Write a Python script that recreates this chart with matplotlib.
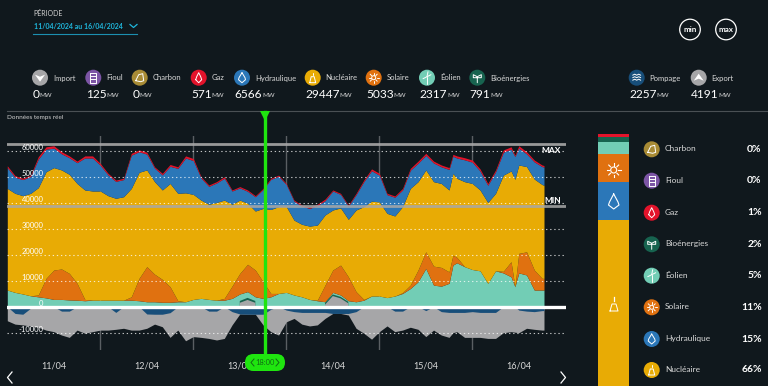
from matplotlib import pyplot as plt
from matplotlib.patches import Circle, FancyBboxPatch, Polygon
import numpy as np

plt.rcParams.update({"font.family": ["Lato", "DejaVu Sans"], "font.size": 7})

W, H = 768, 386
BG = "#10181d"
JAUNE, BLEU, ORANGE, TEAL = "#e8ab05", "#2b77b8", "#e07110", "#72cdb5"
ROUGE, VERT, GRIS, MARINE = "#e3132b", "#17634f", "#a6a6a8", "#174e7a"
VIOLET, OCRE = "#7c55a5", "#a88b35"

heures = np.array(sorted(list(range(0, 139, 2)) + [115, 131, 138.5]))
jours = ["11/04", "12/04", "13/04", "14/04", "15/04", "16/04"]

# niveaux cumules, en MW
niveau_gaz = [
    54200, 50400, 49400, 50600, 57700, 61500, 61900, 59600, 58000, 56000,
    58000, 58000, 55100, 51300, 48700, 49400, 59000, 60300, 59400, 53800,
    51300, 54700, 53800, 58000, 57000, 50000, 46800, 48100, 50000, 44900,
    46200, 44900, 42700, 45500, 49400, 50600, 47400, 41000, 39100, 38200,
    39400, 41400, 44900, 43600, 39100, 43600, 48700, 53000, 51300, 43600,
    42600, 45500, 53200, 56000, 59000, 56000, 54500, 53500, 58600, 58000,
    57300, 56400, 53000, 47400, 52600, 60300, 61500, 58300, 61900, 59600,
    56400, 54500, 54300,
]
gaz = [
    700, 600, 500, 500, 900, 900, 900, 800, 700, 600,
    800, 800, 700, 600, 500, 500, 700, 700, 700, 500,
    600, 700, 600, 800, 800, 500, 500, 500, 600, 400,
    500, 500, 400, 400, 400, 400, 400, 400, 400, 400,
    500, 600, 400, 400, 400, 500, 600, 700, 700, 500,
    500, 600, 700, 800, 800, 700, 700, 700, 700, 800,
    800, 800, 800, 700, 700, 900, 900, 500, 900, 800,
    700, 600, 600,
]
niveau_nucleaire = [
    45500, 43600, 42700, 43600, 45800, 51900, 53500, 52600, 50900, 47400,
    44900, 44500, 44500, 42700, 41700, 42300, 45500, 51700, 52600, 48100,
    44900, 47400, 43600, 43800, 43200, 41000, 39400, 40100, 41000, 39400,
    41000, 39800, 36800, 37800, 37400, 38500, 38500, 33300, 31700, 31000,
    31400, 35300, 37200, 38000, 33600, 37200, 38500, 40600, 40300, 35900,
    34900, 38500, 45500, 48100, 52600, 48100, 47400, 44900, 51300, 49400,
    48100, 47400, 44900, 40100, 43600, 50600, 52200, 49000, 54500, 53900,
    49100, 47000, 46700,
]
niveau_solaire = [
    6400, 5500, 4900, 4200, 4500, 10900, 14100, 14500, 12800, 9000,
    2800, 2500, 2500, 2500, 2500, 2500, 3800, 10900, 15400, 12500,
    10500, 7700, 2300, 1900, 2800, 3200, 2800, 2500, 3200, 7900,
    12800, 16300, 14100, 9600, 5100, 5100, 5500, 4500, 3800, 2800,
    2500, 8300, 14100, 16000, 11500, 5800, 2800, 4100, 4100, 3500,
    4100, 5400, 8300, 14100, 21100, 15600, 15100, 13400, 19800, 19000,
    15400, 14300, 13800, 9000, 13800, 13600, 17300, 7700, 20500, 21100,
    14100, 10900, 10900,
]
niveau_eolien = [
    6400, 5500, 4900, 4200, 3800, 3400, 2800, 2800, 2600, 2500,
    2300, 2500, 2500, 2500, 2500, 2500, 2500, 2300, 1900, 1900,
    1700, 1700, 1900, 1900, 2800, 3200, 2800, 2500, 2500, 3200,
    4900, 5800, 3800, 3200, 3800, 5100, 5500, 4500, 3800, 2800,
    2300, 1900, 5500, 4500, 2300, 1900, 2500, 4100, 4100, 3500,
    4100, 5100, 7000, 9600, 14700, 8300, 7900, 9000, 16000, 16900,
    15400, 14300, 13800, 9000, 13800, 13000, 11500, 7700, 13000, 12200,
    6400, 6400, 6400,
]
niveau_bio = [
    0, 0, 0, 0, 0, 0, 0, 0, 0, 0,
    0, 0, 0, 0, 0, 0, 0, 0, 0, 0,
    0, 0, 0, 0, 0, 0, 0, 0, 0, 0,
    2200, 3400, 2200, 0, 0, 0, 0, 0, 0, 0,
    0, 1500, 4700, 3800, 1900, 0, 0, 0, 0, 0,
    0, 0, 0, 0, 0, 0, 0, 0, 0, 0,
    0, 0, 0, 0, 0, 0, 0, 0, 0, 0,
    0, 0, 0,
]
imports = [
    0, 0, 0, 0, 0, 0, 0, 0, 0, 0,
    0, 0, 0, 0, 0, 0, 0, 0, 0, 0,
    0, 0, 0, 0, 0, 0, 0, 0, 0, 0,
    1500, 2600, 1500, 0, 0, 0, 0, 0, 0, 0,
    0, 800, 4100, 3200, 1300, 0, 0, 0, 0, 0,
    0, 0, 0, 0, 0, 0, 0, 0, 0, 0,
    0, 0, 0, 0, 0, 0, 0, 0, 0, 0,
    0, 0, 0,
]
pompage = [
    0, -2600, -2900, -600, 0, 0, 0, -1700, -1700, 0,
    0, 0, 0, 0, -2200, 0, 0, 0, -2800, -2900,
    -2900, -2300, 0, 0, 0, 0, -1700, -1700, 0, -1900,
    -2800, -2900, -2900, -2900, -1000, 0, -1300, -1900, -2200, -2200,
    -2200, -2200, -2600, -2600, -2600, -1900, 0, 0, 0, 0,
    -1700, -1700, 0, 0, -1500, 0, -1900, -2200, -2200, -2200,
    -2200, -1900, -2200, -2200, -2200, 0, 0, 0, -1300, -1700,
    -1900, -1500, -1500,
]
export_bas = [
    -5400, -6700, -7000, -7400, -7900, -9000, -9600, -10900, -11800, -9000,
    -10200, -9600, -9000, -9000, -8700, -8300, -9000, -9000, -8300, -6700,
    -7700, -11800, -9000, -13100, -11500, -11800, -12200, -12800, -12200, -7000,
    -2800, -2900, -2900, -7000, -9600, -10900, -5800, -4500, -6700, -7400,
    -7000, -4500, -2600, -2600, -3200, -8300, -10200, -12500, -9600, -7400,
    -9600, -9000, -7900, -8700, -11500, -9000, -10900, -11800, -10000, -9600,
    -11800, -11800, -11800, -12200, -12200, -10000, -9600, -9800, -10000, -8300,
    -8700, -9000, -9000,
]

# panneau du haut
filieres_haut = ["Import", "Fioul", "Charbon", "Gaz", "Hydraulique", "Nucléaire",
                 "Solaire", "Éolien", "Bioénergies", "Pompage", "Export"]
valeurs_haut = [0, 125, 0, 571, 6566, 29447, 5033, 2317, 791, 2257, 4191]
couleurs_haut = [GRIS, VIOLET, OCRE, ROUGE, BLEU, JAUNE, ORANGE, TEAL, VERT, MARINE, GRIS]
icones_x = [40, 93.3, 139.7, 198.7, 242, 312.7, 373.7, 427, 477.3, 636.7, 698.7]

# barre de droite
filieres_mix = ["Charbon", "Fioul", "Gaz", "Bioénergies", "Éolien", "Solaire", "Hydraulique", "Nucléaire"]
parts_mix = [0, 0, 1, 2, 5, 11, 15, 66]
couleurs_mix = [OCRE, VIOLET, ROUGE, VERT, TEAL, ORANGE, BLEU, JAUNE]
legende_y = [149.3, 180.7, 212.7, 244.3, 275.7, 307.3, 339, 370]

seuil_max = 62700
seuil_min = 38850


def axes_px(fig, x0, y0, x1, y1, **kw):
    return fig.add_axes([x0 / W, 1 - y1 / H, (x1 - x0) / W, (y1 - y0) / H], **kw)


def icone(ax, x, y, nom, couleur, r=8):
    # pictogrammes tres simplifies
    ax.add_patch(Circle((x, y), r, fc=couleur, ec="none", zorder=5))
    trait = dict(color="white", lw=0.7, zorder=6, solid_capstyle="round")
    if nom == "Import":
        ax.add_patch(Polygon([(x - 5, y - 3), (x, y - 1), (x + 5, y - 3), (x, y + 4)], fc="white", zorder=6))
    elif nom == "Export":
        ax.add_patch(Polygon([(x - 5, y + 3), (x, y + 1), (x + 5, y + 3), (x, y - 4)], fc="white", zorder=6))
    elif nom == "Fioul":
        ax.plot([x - 3, x - 3, x + 3, x + 3, x - 3], [y - 5, y + 5, y + 5, y - 5, y - 5], **trait)
        ax.plot([x - 3, x + 3], [y - 1.5, y - 1.5], **trait)
        ax.plot([x - 3, x + 3], [y + 1.5, y + 1.5], **trait)
    elif nom == "Charbon":
        ax.plot([x - 4, x - 1, x + 3, x + 4, x + 1, x - 4], [y + 3, y - 3, y - 4, y + 3, y + 4, y + 3], **trait)
    elif nom == "Gaz":
        ax.plot([x - 3, x - 2, x, x + 2, x + 3, x, x - 3], [y + 2, y - 1, y - 5, y - 1, y + 2, y + 5, y + 2], **trait)
    elif nom == "Hydraulique":
        ax.plot([x, x + 3, x + 3.5, x, x - 3.5, x - 3, x], [y - 5, y, y + 2, y + 5, y + 2, y, y - 5], **trait)
    elif nom == "Nucléaire":
        ax.plot([x - 3, x - 1.5, x + 1.5, x + 3, x - 3], [y + 5, y - 1, y - 1, y + 5, y + 5], **trait)
        ax.plot([x, x], [y - 5, y - 3], **trait)
    elif nom == "Solaire":
        ax.add_patch(Circle((x, y), 2, fc="none", ec="white", lw=0.7, zorder=6))
        for a in np.arange(0, 2 * np.pi, np.pi / 4):
            ax.plot([x + 3 * np.cos(a), x + 5 * np.cos(a)], [y + 3 * np.sin(a), y + 5 * np.sin(a)], **trait)
    elif nom == "Éolien":
        ax.plot([x, x], [y - 1, y + 6], **trait)
        ax.plot([x - 4, x + 4], [y + 1, y - 3], **trait)
        ax.plot([x, x + 1], [y - 1, y - 6], **trait)
    elif nom == "Bioénergies":
        ax.plot([x, x, x - 4, x - 4, x], [y + 5, y - 1, y - 3, y, y], **trait)
        ax.plot([x, x + 4, x + 4, x], [y - 1, y - 3, y, y], **trait)
    elif nom == "Pompage":
        for dy in (-2.5, 0, 2.5):
            ax.plot([x - 4, x - 2, x, x + 2, x + 4], [y + dy, y + dy - 1, y + dy, y + dy - 1, y + dy], **trait)


def main():
    fig = plt.figure(figsize=(W / 100, H / 100), dpi=100, facecolor=BG)

    # graphique principal, 93 px par jour et 26 px pour 10000 MW
    ax = axes_px(fig, 7.3, 136, 566, 350, facecolor=BG)
    ax.set_xlim(0, (566 - 7.3) / 93 * 24)
    ax.set_ylim((306.7 - 350) / 0.0026, (306.7 - 136) / 0.0026)
    for s in ax.spines.values():
        s.set_visible(False)

    ax.fill_between(heures, export_bas, 0, color=GRIS, lw=0, zorder=2)
    ax.fill_between(heures, pompage, 0, color=MARINE, lw=0, zorder=3)
    ax.fill_between(heures, 0, niveau_eolien, color=TEAL, lw=0, zorder=2)
    ax.fill_between(heures, niveau_eolien, niveau_solaire, color=ORANGE, lw=0, zorder=2)
    ax.fill_between(heures, niveau_solaire, niveau_nucleaire, color=JAUNE, lw=0, zorder=2)
    hydro_haut = np.array(niveau_gaz) - np.array(gaz)
    ax.fill_between(heures, niveau_nucleaire, hydro_haut, color=BLEU, lw=0, zorder=2)
    ax.fill_between(heures, hydro_haut, niveau_gaz, color=ROUGE, lw=0, zorder=2)
    ax.fill_between(heures, 0, niveau_bio, where=np.array(niveau_bio) > 0, color=VERT, lw=0, zorder=3)
    ax.fill_between(heures, 0, imports, where=np.array(imports) > 0, color=GRIS, lw=0, zorder=3)

    ax.set_yticks(np.arange(-10000, 60001, 10000))
    ax.set_yticklabels([str(v) for v in np.arange(-10000, 60001, 10000)], va="bottom", color="white", fontsize=5.5)
    ax.tick_params(axis="y", length=0, pad=-26)
    ax.yaxis.set_zorder(7)
    ax.set_xticks(np.arange(12, 24 * 6, 24))
    ax.set_xticklabels(jours, color="#d8d8d8", fontsize=6.5)
    ax.tick_params(axis="x", length=0, pad=8)

    for v in np.arange(-10000, 60001, 10000):
        if v != 0:
            ax.axhline(v, color="white", lw=0.8, ls=(0, (1.2, 2.5)), alpha=0.75, zorder=4)
    for h in np.arange(24, 24 * 6, 24):
        ax.axvline(h, color="#5a5f63", lw=1, zorder=1)
    ax.axhline(seuil_max, color="#a8a8a8", lw=2, alpha=0.9, zorder=4)
    ax.axhline(seuil_min, color="#a8a8a8", lw=2, alpha=0.85, zorder=4)
    ax.axhline(0, color="white", lw=2.4, zorder=5)
    ax.text(137.7, 60000, "MAX", color="white", fontsize=6, fontweight="bold", va="center", zorder=6)
    ax.text(138.5, 41000, "MIN", color="white", fontsize=6, fontweight="bold", va="center", zorder=6)

    # barre de repartition, 100 % sur toute la hauteur
    bar = axes_px(fig, 598, 134, 629.3, 386, facecolor=BG)
    bar.set_xlim(0, 1)
    bar.set_ylim(0, 100)
    bar.axis("off")
    bas = 0
    for part, coul in zip(parts_mix[::-1], couleurs_mix[::-1]):
        if part > 0:
            bar.bar(0.5, part, bottom=bas, width=1, color=coul, lw=0)
        bas += part

    # calque en pixels pour les textes et les pictogrammes
    px = fig.add_axes([0, 0, 1, 1], facecolor="none", zorder=10)
    px.set_xlim(0, W)
    px.set_ylim(H, 0)
    px.axis("off")

    px.text(33, 13.5, "PÉRIODE", color="#d0d0d0", fontsize=5, va="center")
    px.text(34, 26.5, "11/04/2024 au 16/04/2024", color="#1fb6dc", fontsize=5, fontweight="bold", va="center")
    px.plot([33, 137], [33.5, 33.5], color="#1c8fb0", lw=0.8)
    px.plot([130, 133.5, 137], [24.5, 27.5, 24.5], color="#1fb6dc", lw=0.9)

    for x, txt in zip([690, 726], ["min", "max"]):
        px.add_patch(Circle((x, 29.5), 10.3, fc="none", ec="white", lw=0.9))
        px.text(x, 29.5, txt, color="white", fontsize=5.8, fontweight="bold", ha="center", va="center")

    for x, nom, val, coul in zip(icones_x, filieres_haut, valeurs_haut, couleurs_haut):
        icone(px, x, 77.7, nom, coul)
        px.text(x + 13, 78, nom, color="#d8d8d8", fontsize=5.5, va="center")
        t = px.text(x - 7.5, 94, str(val), color="white", fontsize=8.6, va="center")
        px.annotate("MW", xy=(1, 0.12), xycoords=t, xytext=(0, 0), textcoords="offset points",
                    color="#d8d8d8", fontsize=4.6, va="bottom")

    px.plot([7, 768], [111, 111], color="#4a5054", lw=0.8)
    px.text(7, 117, "Données temps réel", color="#d0d0d0", fontsize=4.6, va="center")

    # legende de la barre
    for y, nom, part, coul in zip(legende_y, filieres_mix, parts_mix, couleurs_mix):
        icone(px, 651.7, y, nom, coul)
        px.text(665, y - 0.5, nom, color="#d8d8d8", fontsize=6, va="center")
        px.text(761.7, y, f"{part}%", color="white", fontsize=7.5, fontweight="bold", ha="right", va="center")

    # pictogrammes dans la barre
    px.add_patch(Circle((613.7, 170), 3, fc="none", ec="white", lw=0.8))
    for a in np.arange(0, 2 * np.pi, np.pi / 4):
        px.plot([613.7 + 4.5 * np.cos(a), 613.7 + 7 * np.cos(a)],
                [170 + 4.5 * np.sin(a), 170 + 7 * np.sin(a)], color="white", lw=0.8)
    px.plot([613.7, 618, 619, 613.7, 608.5, 609.5, 613.7], [194, 202, 205, 209, 205, 202, 194], color="white", lw=0.8)
    px.plot([610, 612, 616, 618, 610], [311, 304, 304, 311, 311], color="white", lw=0.7)
    px.plot([613.7, 613.7], [297, 301], color="white", lw=0.9)

    # curseur vert
    vert = "#1fe50f"
    px.plot([265, 265], [112, 358], color=vert, lw=2.4, zorder=8)
    px.add_patch(Polygon([(260, 111), (270, 111), (265, 121)], fc=vert, ec="none", zorder=8))
    px.add_patch(FancyBboxPatch((245, 354), 40, 17, boxstyle="round,pad=0,rounding_size=8.5",
                                fc=vert, ec="none", zorder=8))
    px.text(265, 362.5, "18:00", color="#116b14", fontsize=5.4, ha="center", va="center", zorder=9)
    px.plot([254, 251, 254], [359, 362.5, 366], color="#116b14", lw=0.7, zorder=9)
    px.plot([276, 279, 276], [359, 362.5, 366], color="#116b14", lw=0.7, zorder=9)

    # fleches de navigation
    px.plot([12, 7.5, 12], [372, 377.5, 383], color="white", lw=0.9)
    px.plot([561, 565.5, 561], [372, 377.5, 383], color="white", lw=0.9)

    fig.savefig("out.png", dpi=100, facecolor=BG)


if __name__ == "__main__":
    main()
